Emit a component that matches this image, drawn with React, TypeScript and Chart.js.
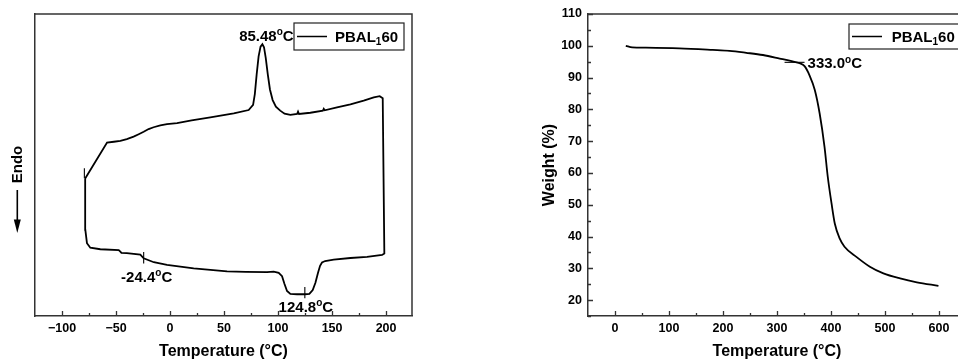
import React, { useEffect, useRef } from "react";
import { Chart, registerables } from "chart.js";

Chart.register(...registerables);

const FONT = '"Liberation Sans", Arial, Helvetica, sans-serif';
const AXIS_COLOR = "#333333";

// ---------- DSC (left) ----------
const dscTemp = [
  -78.4, -58.3, -52.0, -46.0, -40.0, -33.7, -29.0, -24.4, -19.8, -15.2, -9.0, -2.8, 6.5, 20.0, 37.3,
  59.0, 72.8, 76.9, 78.5, 80.2, 82.0, 83.8, 85.5,
  87.0, 88.6, 90.5, 92.5, 95.0, 98.0, 102.0, 106.0, 111.4, 117.6, 118.5, 119.4, 129.9, 141.5, 142.3,
  143.2, 154.6, 167.0, 179.3, 188.6, 194.1, 196.9, 198.4, 196.3, 182.4, 167.0, 151.5, 143.6, 140.7,
  138.9, 137.0, 134.6, 132.1, 129.0, 124.8, 117.6, 111.4, 108.3, 105.9, 103.7, 100.6, 96.0, 89.8,
  70.0, 52.8, 21.9, -2.8, -15.0, -24.4, -27.5, -40.0, -45.0, -46.0, -47.5, -64.5, -73.8, -76.9,
  -78.4, -78.7, -78.4,
];
const dscFlow = [
  45.6, 57.4, 57.7, 58.0, 58.6, 59.4, 60.2, 61.0, 61.9, 62.5, 63.1, 63.5, 63.9, 64.8, 65.8,
  67.1, 68.2, 69.9, 73.5, 80.0, 86.0, 89.2, 90.0,
  89.0, 85.5, 80.0, 75.0, 71.5, 69.3, 68.0, 67.0, 66.6, 66.9, 67.7, 66.9, 67.3, 68.0, 68.6,
  68.1, 69.1, 70.1, 71.3, 72.4, 72.8, 72.1, 20.7, 20.2, 19.6, 19.2, 18.7, 18.2, 17.7,
  16.6, 14.3, 11.0, 8.6, 7.3, 7.2, 7.2, 7.3, 8.3, 10.7, 13.2, 14.3, 14.7, 14.5,
  14.6, 14.8, 15.8, 16.9, 17.8, 19.1, 20.3, 20.8, 20.9, 21.3, 21.8, 22.1, 22.6, 24.1,
  28.5, 38.0, 45.6,
];
const dscMarkerTemp = [-79.3, -24.4, 124.8];
const dscMarkerLow = [45.6, 17.4, 5.9];
const dscMarkerHigh = [48.9, 21.2, 9.6];
const dscLabelText = ["85.48", "-24.4", "124.8"];
const dscLabelTemp = [85.48, -24.4, 124.8];
const dscLabelFlow = [90.0, 19.1, 7.2];
const dscXTicks = [-100, -50, 0, 50, 100, 150, 200];

// ---------- TGA (right) ----------
const tgaTemp = [
  20, 32, 57, 119, 181, 212, 243, 274, 305, 329, 342, 351, 360, 370, 379, 388, 394, 401, 407,
  416, 425, 447, 472, 497, 528, 559, 599,
];
const tgaWeight = [
  100.0, 99.5, 99.4, 99.2, 98.7, 98.4, 97.8, 97.1, 96.0, 95.1, 94.5, 93.6, 90.8, 86.1, 78.7, 68.2,
  58.8, 50.4, 44.1, 39.4, 36.8, 33.6, 30.5, 28.4, 26.8, 25.6, 24.5,
];
const tgaOnsetTemp = [314, 351];
const tgaOnsetWeight = [94.8, 94.8];
const tgaOnsetText = "333.0";
const tgaXTicks = [0, 100, 200, 300, 400, 500, 600];
const tgaYTicks = [20, 30, 40, 50, 60, 70, 80, 90, 100, 110];

const seriesName = ["PBAL", "1", "60"];

const fmt = (v: number) => (v < 0 ? "\u2212" + Math.abs(v) : String(v));

function range(from: number, to: number, step: number) {
  const r: number[] = [];
  for (let v = from; v <= to + 1e-9; v += step) r.push(Math.round(v * 1000) / 1000);
  return r;
}

function drawDegLabel(ctx: CanvasRenderingContext2D, text: string, x: number, y: number, align: string) {
  const big = `bold 15px ${FONT}`;
  const small = `bold 10px ${FONT}`;
  ctx.save();
  ctx.fillStyle = "#000";
  ctx.textAlign = "left";
  ctx.textBaseline = "alphabetic";
  ctx.font = big;
  const w1 = ctx.measureText(text).width;
  const wC = ctx.measureText("C").width;
  ctx.font = small;
  const wo = ctx.measureText("o").width;
  const total = w1 + wo + wC;
  const sx = align === "center" ? x - total / 2 : align === "right" ? x - total : x;
  const base = y + 5.4;
  ctx.font = big;
  ctx.fillText(text, sx, base);
  ctx.font = small;
  ctx.fillText("o", sx + w1, base - 5.5);
  ctx.font = big;
  ctx.fillText("C", sx + w1 + wo, base);
  ctx.restore();
}

function drawLegend(ctx: CanvasRenderingContext2D, bx: number, by: number, bw: number, bh: number, l0: number, l1: number, tx: number) {
  ctx.save();
  ctx.strokeStyle = "#222";
  ctx.lineWidth = 1.2;
  ctx.strokeRect(bx, by, bw, bh);
  const cy = by + bh / 2;
  ctx.beginPath();
  ctx.moveTo(l0, cy);
  ctx.lineTo(l1, cy);
  ctx.lineWidth = 1.5;
  ctx.strokeStyle = "#000";
  ctx.stroke();
  const base = cy + 5.5;
  ctx.fillStyle = "#000";
  ctx.textAlign = "left";
  ctx.textBaseline = "alphabetic";
  ctx.font = `bold 15px ${FONT}`;
  ctx.fillText(seriesName[0], tx, base);
  let x = tx + ctx.measureText(seriesName[0]).width;
  ctx.font = `bold 10px ${FONT}`;
  ctx.fillText(seriesName[1], x, base + 3);
  x += ctx.measureText(seriesName[1]).width;
  ctx.font = `bold 15px ${FONT}`;
  ctx.fillText(seriesName[2], x, base);
  ctx.restore();
}

function drawInnerTicks(chart: any, axis: "x" | "y", values: number[], isMajor: (v: number) => boolean) {
  const { ctx, chartArea } = chart;
  const scale = chart.scales[axis];
  ctx.save();
  ctx.strokeStyle = AXIS_COLOR;
  ctx.lineWidth = 1.3;
  ctx.beginPath();
  values.forEach((v) => {
    const len = isMajor(v) ? 5 : 3;
    if (axis === "x") {
      const px = Math.round(scale.getPixelForValue(v)) + 0.5;
      ctx.moveTo(px, chartArea.bottom);
      ctx.lineTo(px, chartArea.bottom - len);
    } else {
      const py = Math.round(scale.getPixelForValue(v)) + 0.5;
      ctx.moveTo(chartArea.left, py);
      ctx.lineTo(chartArea.left + len, py);
    }
  });
  ctx.stroke();
  ctx.restore();
}

function drawFrame(chart: any) {
  const { ctx, chartArea } = chart;
  ctx.save();
  ctx.strokeStyle = AXIS_COLOR;
  ctx.lineWidth = 1.5;
  ctx.beginPath();
  ctx.moveTo(chartArea.left, chartArea.top);
  ctx.lineTo(chartArea.right, chartArea.top);
  ctx.lineTo(chartArea.right, chartArea.bottom);
  ctx.stroke();
  ctx.restore();
}

const leftDecor = {
  id: "leftDecor",
  afterDraw(chart: any) {
    const { ctx, chartArea, scales } = chart;
    drawFrame(chart);
    drawInnerTicks(chart, "x", range(-100, 200, 25), (v) => v % 50 === 0);
    // Endo + arrow
    ctx.save();
    ctx.fillStyle = "#000";
    ctx.translate(17.5, 164.5);
    ctx.rotate(-Math.PI / 2);
    ctx.font = `bold 15px ${FONT}`;
    ctx.textAlign = "center";
    ctx.textBaseline = "middle";
    ctx.fillText("Endo", 0, 0);
    ctx.restore();
    ctx.save();
    ctx.strokeStyle = "#000";
    ctx.fillStyle = "#000";
    ctx.lineWidth = 1.6;
    ctx.beginPath();
    ctx.moveTo(17.3, 190);
    ctx.lineTo(17.3, 222);
    ctx.stroke();
    ctx.beginPath();
    ctx.moveTo(13.8, 219.5);
    ctx.lineTo(20.8, 219.5);
    ctx.lineTo(17.3, 233);
    ctx.closePath();
    ctx.fill();
    ctx.restore();
    // annotations
    const offsets = [
      [4, -9],
      [3, 18],
      [1, 12],
    ];
    dscLabelText.forEach((t, i) => {
      const px = scales.x.getPixelForValue(dscLabelTemp[i]) + offsets[i][0];
      const py = scales.y.getPixelForValue(dscLabelFlow[i]) + offsets[i][1];
      drawDegLabel(ctx, t, px, py, "center");
    });
    drawLegend(ctx, chartArea.right - 118, chartArea.top + 9, 110, 27, chartArea.right - 115, chartArea.right - 85, chartArea.right - 77);
  },
};

const rightDecor = {
  id: "rightDecor",
  afterDraw(chart: any) {
    const { ctx, chartArea, scales } = chart;
    drawFrame(chart);
    drawInnerTicks(chart, "x", range(0, 650, 50), (v) => v % 100 === 0);
    drawInnerTicks(chart, "y", range(15, 110, 5), (v) => v % 10 === 0);
    const px = scales.x.getPixelForValue(tgaOnsetTemp[1]) + 3;
    const py = scales.y.getPixelForValue(tgaOnsetWeight[1]) + 0.7;
    drawDegLabel(ctx, tgaOnsetText, px, py, "left");
    drawLegend(ctx, 369, chartArea.top + 10, 120, 25, 372, 402, 411.7);
  },
};

function baseScaleX(min: number, max: number, ticks: number[]) {
  return {
    type: "linear" as const,
    min,
    max,
    afterBuildTicks: (s: any) => {
      s.ticks = ticks.map((v) => ({ value: v }));
    },
    afterFit: (s: any) => {
      s.height = 47;
    },
    grid: { display: false, drawTicks: false },
    border: { display: true, color: AXIS_COLOR, width: 1.5 },
    ticks: {
      color: "#000",
      font: { family: FONT, size: 12.5, weight: "bold" as const },
      padding: 5,
      maxRotation: 0,
      autoSkip: false,
      callback: (v: any) => fmt(Number(v)),
    },
    title: {
      display: true,
      text: "Temperature (\u00b0C)",
      color: "#000",
      font: { family: FONT, size: 16, weight: "bold" as const },
      padding: { top: 0, bottom: 1.4 },
    },
  };
}

export default function App() {
  const leftRef = useRef<HTMLCanvasElement>(null);
  const rightRef = useRef<HTMLCanvasElement>(null);

  useEffect(() => {
    const lineDs = (pts: { x: number; y: number }[], w: number, smooth = false) => ({
      data: pts,
      showLine: true,
      borderColor: "#000",
      backgroundColor: "#000",
      borderWidth: w,
      pointRadius: 0,
      tension: smooth ? 0.4 : 0,
      cubicInterpolationMode: smooth ? ("monotone" as const) : ("default" as const),
    });

    const left = new Chart(leftRef.current!, {
      type: "scatter",
      data: {
        datasets: [
          lineDs(dscTemp.map((x, i) => ({ x, y: dscFlow[i] })), 1.8),
          ...dscMarkerTemp.map((x, i) =>
            lineDs(
              [
                { x, y: dscMarkerLow[i] },
                { x, y: dscMarkerHigh[i] },
              ],
              1.1
            )
          ),
        ],
      },
      options: {
        responsive: false,
        animation: false,
        events: [],
        layout: { padding: { top: 14, right: 8, left: 0, bottom: 0 } },
        plugins: { legend: { display: false }, tooltip: { enabled: false } },
        scales: {
          x: baseScaleX(-125, 224, dscXTicks),
          y: {
            type: "linear",
            min: 0,
            max: 100,
            afterFit: (s: any) => {
              s.width = 35;
            },
            grid: { display: false, drawTicks: false },
            border: { display: true, color: AXIS_COLOR, width: 1.5 },
            ticks: { display: false },
          },
        },
      },
      plugins: [leftDecor],
    });

    const right = new Chart(rightRef.current!, {
      type: "scatter",
      data: {
        datasets: [
          lineDs(tgaTemp.map((x, i) => ({ x, y: tgaWeight[i] })), 1.8, true),
          lineDs(tgaOnsetTemp.map((x, i) => ({ x, y: tgaOnsetWeight[i] })), 1.1),
        ],
      },
      options: {
        responsive: false,
        animation: false,
        events: [],
        layout: { padding: { top: 14, right: 0, left: 60, bottom: 0 } },
        plugins: { legend: { display: false }, tooltip: { enabled: false } },
        scales: {
          x: baseScaleX(-50, 650, tgaXTicks),
          y: {
            type: "linear",
            min: 15,
            max: 110,
            afterBuildTicks: (s: any) => {
              s.ticks = tgaYTicks.map((v) => ({ value: v }));
            },
            afterFit: (s: any) => {
              s.width = 48;
            },
            grid: { display: false, drawTicks: false },
            border: { display: true, color: AXIS_COLOR, width: 1.5 },
            ticks: {
              color: "#000",
              font: { family: FONT, size: 12.5, weight: "bold" },
              padding: 6,
              autoSkip: false,
            },
            title: {
              display: true,
              text: "Weight (%)",
              color: "#000",
              font: { family: FONT, size: 16, weight: "bold" },
              padding: { top: 0, bottom: 0 },
            },
          },
        },
      },
      plugins: [rightDecor],
    });

    return () => {
      left.destroy();
      right.destroy();
    };
  }, []);

  return (
    <div
      style={{
        position: "fixed",
        left: 0,
        top: 0,
        width: 958,
        height: 363,
        overflow: "hidden",
        background: "#fff",
      }}
    >
      <canvas
        ref={leftRef}
        width={420}
        height={363}
        style={{ position: "absolute", left: 0, top: 0, width: 420, height: 363 }}
      />
      <canvas
        ref={rightRef}
        width={486}
        height={363}
        style={{ position: "absolute", left: 480, top: 0, width: 486, height: 363 }}
      />
    </div>
  );
}
